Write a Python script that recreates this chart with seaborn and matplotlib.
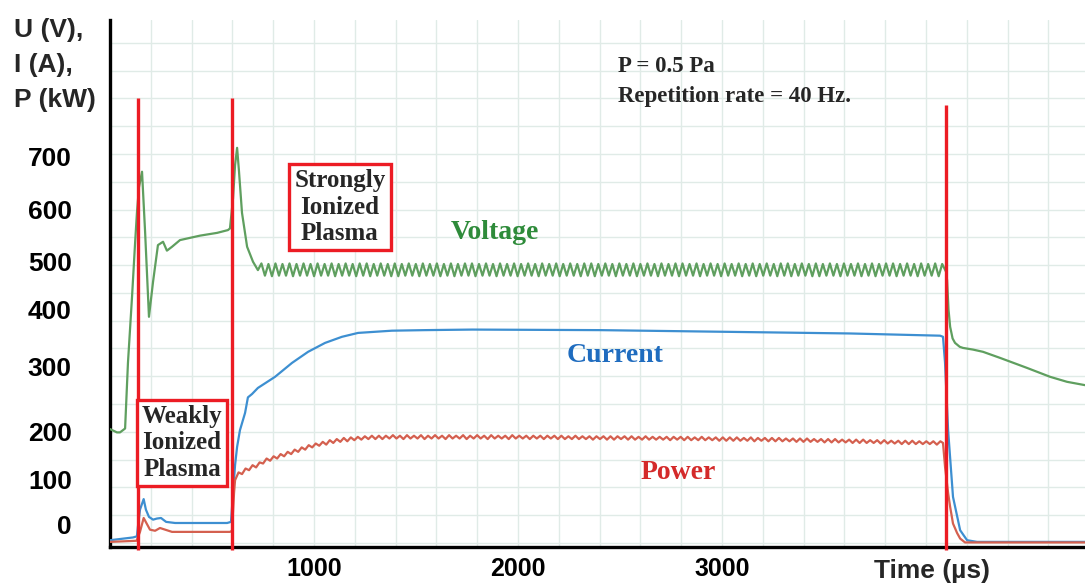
import numpy as np
import pandas as pd
import matplotlib
matplotlib.use("Agg")
import matplotlib.pyplot as plt
import matplotlib.transforms as mtransforms
from matplotlib.ticker import MultipleLocator, FixedLocator
import seaborn as sns

# ---------------------------------------------------------------- data
# Discharge voltage U (V): ignition, weakly ionized stage, transition
volt_head_t = [0, 34, 49, 74, 88, 108, 123, 132, 142, 157, 172, 191, 211, 235,
               260, 279, 304, 343, 441, 525, 578, 588, 603, 613, 623, 632, 647,
               672, 701]
volt_head = [205, 199, 199, 206, 324, 443, 540, 594, 640, 668, 560, 407, 470,
             536, 542, 526, 533, 545, 553, 558, 563, 566, 620, 680, 711, 670,
             594, 533, 506]
# Voltage ripple on the strongly ionized plateau (one value per half ripple period)
volt_ripple_start = 725
volt_ripple = [
    491, 503, 481, 502, 480, 503, 481, 502, 481, 503, 480, 502, 481, 503, 481, 502, 480, 503, 481, 502,
    481, 503, 480, 502, 481, 503, 481, 502, 480, 503, 481, 503, 480, 502, 481, 503, 481, 502, 480, 503,
    480, 502, 481, 503, 481, 502, 480, 503, 481, 502, 481, 503, 480, 502, 481, 503, 480, 502, 481, 503,
    481, 503, 480, 502, 481, 503, 481, 502, 480, 503, 481, 502, 481, 503, 480, 502, 481, 503, 481, 502,
    480, 503, 481, 502, 481, 503, 480, 502, 481, 503, 481, 502, 480, 503, 481, 503, 480, 502, 481, 503,
    481, 502, 480, 503, 481, 502, 481, 503, 480, 502, 481, 503, 481, 502, 480, 503, 481, 502, 481, 503,
    480, 503, 481, 502, 481, 503, 480, 502, 481, 503, 481, 502, 480, 503, 481, 502, 481, 503, 480, 502,
    481, 503, 480, 502, 481, 503, 481, 502, 480, 503, 481, 503, 480, 502, 481, 503, 481, 502, 480, 503,
    480, 502, 481, 503, 481, 502, 480, 503, 481, 502, 481, 503, 480, 502, 481, 503, 480, 502, 481, 503,
    481, 503, 480, 502, 481, 503, 481, 502, 480, 503, 481, 502, 481, 503, 480, 502,
]
# Voltage after the pulse is switched off
volt_tail_t = [4098, 4103, 4110, 4118, 4130, 4142, 4165, 4181, 4230, 4279, 4363,
               4495, 4608, 4691, 4779]
volt_tail = [488, 473, 420, 389, 368, 360, 353, 351, 348, 344, 333, 315, 299,
             290, 284]

# Discharge current I (A)
curr_t = [0, 113, 132, 137, 147, 165, 176, 191, 211, 230, 250, 275, 319, 574,
          593, 603, 613, 623, 637, 662, 676, 696, 725, 809, 892, 971, 1054,
          1137, 1216, 1382, 1544, 1775, 2402, 3015, 3627, 4069, 4083, 4093,
          4108, 4132, 4167, 4201, 4250, 4779]
curr = [5, 10, 12, 30, 60, 79, 60, 47, 42, 44, 45, 38, 36, 36, 38, 90, 140, 173,
        203, 234, 262, 268, 279, 299, 324, 344, 360, 371, 378, 382, 383, 384,
        383, 380, 377, 373, 371, 324, 203, 83, 23, 5, 2, 2]

# Discharge power P (kW): weakly ionized stage and jump at the transition
pow_head_t = [0, 130, 147, 165, 196, 221, 245, 270, 304, 588, 598, 608, 613]
pow_head = [2, 4, 20, 45, 24, 22, 27, 24, 20, 20, 22, 90, 113]
# Power ripple while the plasma builds up and on the plateau (half ripple period steps)
pow_ripple_start = 630
pow_ripple = [
    127, 124, 134, 131, 140, 136, 145, 143, 152, 148, 156, 152, 160, 156, 164, 160, 168, 164, 172, 168,
    176, 172, 179, 175, 182, 177, 185, 180, 187, 182, 189, 183, 190, 185, 191, 186, 192, 187, 193, 187,
    193, 187, 193, 188, 194, 188, 193, 187, 194, 188, 193, 188, 194, 187, 193, 188, 194, 188, 193, 187,
    194, 188, 193, 188, 194, 187, 193, 188, 194, 188, 193, 187, 194, 188, 193, 188, 193, 187, 194, 188,
    193, 188, 193, 187, 193, 188, 193, 187, 193, 188, 193, 187, 193, 187, 192, 187, 193, 187, 192, 187,
    192, 186, 192, 187, 192, 186, 192, 186, 192, 187, 192, 186, 192, 186, 191, 186, 192, 186, 191, 186,
    191, 186, 191, 185, 191, 186, 191, 185, 191, 185, 190, 185, 191, 185, 190, 185, 190, 184, 190, 184,
    190, 184, 190, 184, 189, 184, 190, 183, 189, 184, 189, 183, 189, 183, 189, 183, 188, 183, 188, 182,
    188, 182, 188, 182, 187, 182, 187, 181, 187, 181, 187, 181, 186, 181, 186, 180, 186, 180, 186, 180,
    185, 180, 185, 179, 185, 179, 184, 179, 184, 178, 184, 178, 184, 178, 183, 178, 183, 178, 183, 177,
    183,
]
pow_tail_t = [4083, 4093, 4108, 4118, 4132, 4152, 4167, 4191, 4779]
pow_tail = [180, 137, 90, 65, 35, 18, 8, 1, 1]

ripple_step = 17.2  # half of the ~34 us ripple period

# Phase boundaries (us)
phase_edges = [137, 598, 4098]
phase_tops = [800, 800, 788]

y_ticks = [0, 100, 200, 300, 400, 500, 600, 700, 800, 900]
y_tick_labels = ["0", "100", "200", "300", "400", "500", "600", "700", "", ""]
x_ticks = [1000, 2000, 3000]
x_tick_labels = ["1000", "2000", "3000"]

# ---------------------------------------------------------------- frame
def with_ripple(head_t, head_v, start, ripple, tail_t, tail_v):
    rt = start + ripple_step * np.arange(len(ripple))
    t = np.concatenate([head_t, rt, tail_t])
    v = np.concatenate([head_v, ripple, tail_v])
    return t, v

vt, vv = with_ripple(volt_head_t, volt_head, volt_ripple_start, volt_ripple,
                     volt_tail_t, volt_tail)
pt, pv = with_ripple(pow_head_t, pow_head, pow_ripple_start, pow_ripple,
                     pow_tail_t, pow_tail)

df = pd.concat([
    pd.DataFrame({"time": vt, "value": vv, "series": "Voltage"}),
    pd.DataFrame({"time": curr_t, "value": curr, "series": "Current"}),
    pd.DataFrame({"time": pt, "value": pv, "series": "Power"}),
], ignore_index=True)

line_colors = {"Voltage": "#5f9f5f", "Current": "#3d8fd1", "Power": "#d4604f"}
label_colors = {"Voltage": "#2e8b3a", "Current": "#1f6cbf", "Power": "#d42a2a"}
red = "#ec1c24"

# ---------------------------------------------------------------- figure
sns.set_theme(style="white")
plt.rcParams["font.family"] = ["Liberation Sans", "DejaVu Sans"]

fig = plt.figure(figsize=(10.85, 5.84), dpi=100)
ax = fig.add_axes([110 / 1085, 37 / 584, 1 - 110 / 1085, 527 / 584])

sns.lineplot(data=df, x="time", y="value", hue="series", palette=line_colors,
             sort=False, estimator=None, legend=False, linewidth=1.6, ax=ax,
             zorder=3)

ax.set_xlim(0, 4779)
ax.set_ylim(-7.2, 941)

# grid
ax.xaxis.set_major_locator(FixedLocator(x_ticks))
ax.xaxis.set_minor_locator(MultipleLocator(200))
ax.yaxis.set_major_locator(FixedLocator(y_ticks))
ax.yaxis.set_minor_locator(MultipleLocator(50))
ax.grid(which="both", color="#e0ebe7", linewidth=1.0, zorder=0)
ax.set_axisbelow(True)

# spines and ticks
for side in ("top", "right"):
    ax.spines[side].set_visible(False)
for side in ("left", "bottom"):
    ax.spines[side].set_color("black")
    ax.spines[side].set_linewidth(2.4)

ax.set_xticks(x_ticks)
ax.set_xticklabels(x_tick_labels)
ax.set_yticks(y_ticks)
ax.set_yticklabels(y_tick_labels)
ax.tick_params(axis="y", which="major", direction="out", length=7.5, width=2.2,
               color="black", pad=20, labelsize=19)
ax.tick_params(axis="y", which="minor", length=0)
ax.tick_params(axis="x", which="major", direction="inout", length=9, width=1.5,
               color="black", pad=2.5, labelsize=18)
ax.tick_params(axis="x", which="minor", direction="in", length=3, width=1,
               color="#555555")
for lab in ax.get_xticklabels() + ax.get_yticklabels():
    lab.set_fontweight("bold")
    lab.set_color("black")

# hand-placed value labels sit a little above some of their ticks
y_label_shift_px = {0: 18, 100: 8, 300: 10, 400: 11, 500: 4, 700: -3}
for tick in ax.yaxis.get_major_ticks():
    val = int(round(tick.get_loc()))
    dy = y_label_shift_px.get(val, 0) / 100.0
    tick.label1.set_transform(tick.label1.get_transform()
                              + mtransforms.ScaledTranslation(0, dy, fig.dpi_scale_trans))

ax.set_xlabel("")
ax.set_ylabel("")

# axis titles
fig.text(14 / 1085, 1 - 65 / 584, "U (V),\nI (A),\nP (kW)", ha="left",
         va="center", fontsize=19, fontweight="bold", linespacing=1.6)
tx = mtransforms.blended_transform_factory(ax.transData, fig.transFigure)
ax.text(4030, 13 / 584, "Time (µs)", transform=tx, ha="center", va="center",
        fontsize=19, fontweight="bold", clip_on=False)

# phase boundaries
ax.vlines(phase_edges, -12, phase_tops, colors=red, linewidth=2.4, zorder=5,
          clip_on=False)

serif = ["Liberation Serif", "DejaVu Serif"]
box = dict(boxstyle="square,pad=0.2", facecolor="white", edgecolor=red,
           linewidth=2.4)
ax.text(353, 180, "Weakly\nIonized\nPlasma", ha="center", va="center",
        fontsize=18, fontweight="bold", family=serif, bbox=box, zorder=6,
        linespacing=1.2)
ax.text(1127, 604, "Strongly\nIonized\nPlasma", ha="center", va="center",
        fontsize=18, fontweight="bold", family=serif, bbox=box, zorder=6,
        linespacing=1.2)

# curve names
ax.text(1887, 558, "Voltage", ha="center", va="center", fontsize=20,
        fontweight="bold", family=serif, color=label_colors["Voltage"])
ax.text(2475, 338, "Current", ha="center", va="center", fontsize=20,
        fontweight="bold", family=serif, color=label_colors["Current"])
ax.text(2784, 126, "Power", ha="center", va="center", fontsize=20,
        fontweight="bold", family=serif, color=label_colors["Power"])

# operating conditions
ax.text(2490, 857, "P = 0.5 Pa", ha="left", va="center", fontsize=16.5,
        fontweight="bold", family=serif)
ax.text(2490, 803, "Repetition rate = 40 Hz.", ha="left", va="center",
        fontsize=16.5, fontweight="bold", family=serif)

fig.savefig("out.png", dpi=100, facecolor="white")
